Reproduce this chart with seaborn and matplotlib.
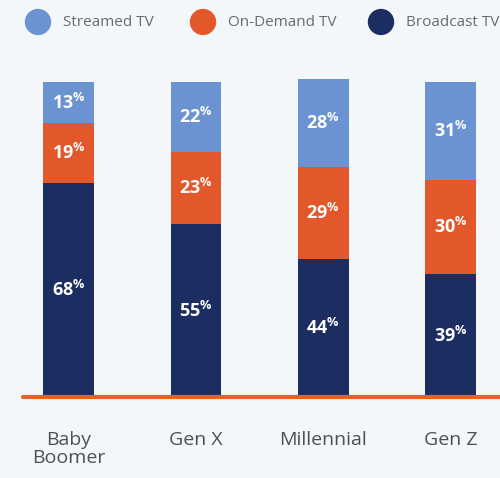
import numpy as np
import pandas as pd
import matplotlib
matplotlib.use("Agg")
import matplotlib.pyplot as plt
import seaborn as sns

# -----------------------------
# DATA
# -----------------------------
generations = ["Baby\nBoomer", "Gen X", "Millennial", "Gen Z"]
streamed = [13, 22, 28, 31]
on_demand = [19, 23, 29, 30]
broadcast = [68, 55, 44, 39]
series_names = ["Streamed TV", "On-Demand TV", "Broadcast TV"]

# -----------------------------
# STYLE
# -----------------------------
BG = "#f4f7fa"
C_STREAM = "#6b93d2"
C_DEMAND = "#e2582b"
C_BROAD = "#1c2d62"
TEXT_GREY = "#4d4f55"

sns.set_theme(style="white")
plt.rcParams["font.family"] = ["Open Sans", "DejaVu Sans"]
plt.rcParams["mathtext.fontset"] = "custom"
plt.rcParams["mathtext.bf"] = "Open Sans:bold"
plt.rcParams["mathtext.rm"] = "Open Sans"

df = pd.DataFrame({
    "Generation": generations,
    "Streamed": streamed,
    "OnDemand": on_demand,
    "Broadcast": broadcast,
})
df["top"] = df["Broadcast"] + df["OnDemand"] + df["Streamed"]
df["mid"] = df["Broadcast"] + df["OnDemand"]

fig = plt.figure(figsize=(5.0, 4.78), dpi=100, facecolor=BG)
ax = fig.add_axes([0.046, 0.169, 0.954, 0.685])
ax.set_facecolor(BG)

# stacked bars drawn as overlapping cumulative heights
sns.barplot(data=df, x="Generation", y="top", color=C_STREAM, width=0.4,
            saturation=1, ax=ax, linewidth=0)
sns.barplot(data=df, x="Generation", y="mid", color=C_DEMAND, width=0.4,
            saturation=1, ax=ax, linewidth=0)
sns.barplot(data=df, x="Generation", y="Broadcast", color=C_BROAD, width=0.4,
            saturation=1, ax=ax, linewidth=0)

# segment labels
for i, row in df.iterrows():
    segs = [
        (row["Broadcast"] / 2, row["Broadcast"]),
        (row["Broadcast"] + row["OnDemand"] / 2, row["OnDemand"]),
        (row["mid"] + row["Streamed"] / 2, row["Streamed"]),
    ]
    for y, v in segs:
        ax.text(i, y, r"$\mathbf{%d}^{\mathbf{\%%}}$" % v, ha="center", va="center",
                color="white", fontsize=13)

ax.set_xlim(-0.36, 3.39)
ax.set_ylim(0, 104)
ax.axhline(0, color="#e0622e", linewidth=3, clip_on=False)
ax.set_xlabel("")
ax.set_ylabel("")
ax.set_yticks([])
ax.tick_params(axis="x", length=0, pad=24, labelsize=14, labelcolor=TEXT_GREY)
for lbl in ax.get_xticklabels():
    lbl.set_linespacing(1.05)
sns.despine(ax=ax, left=True, bottom=True)

# legend row at top
legend_x = [0.076, 0.406, 0.762]
colors = [C_STREAM, C_DEMAND, C_BROAD]
for lx, c, name in zip(legend_x, colors, series_names):
    fig.patches.append(matplotlib.patches.Ellipse(
        (lx, 0.954), 0.05, 0.052, transform=fig.transFigure, color=c))
    fig.text(lx + 0.05, 0.952, name, ha="left", va="center",
             fontsize=11, color="#6a6a6a")

fig.savefig("out.png", dpi=100, facecolor=BG)
